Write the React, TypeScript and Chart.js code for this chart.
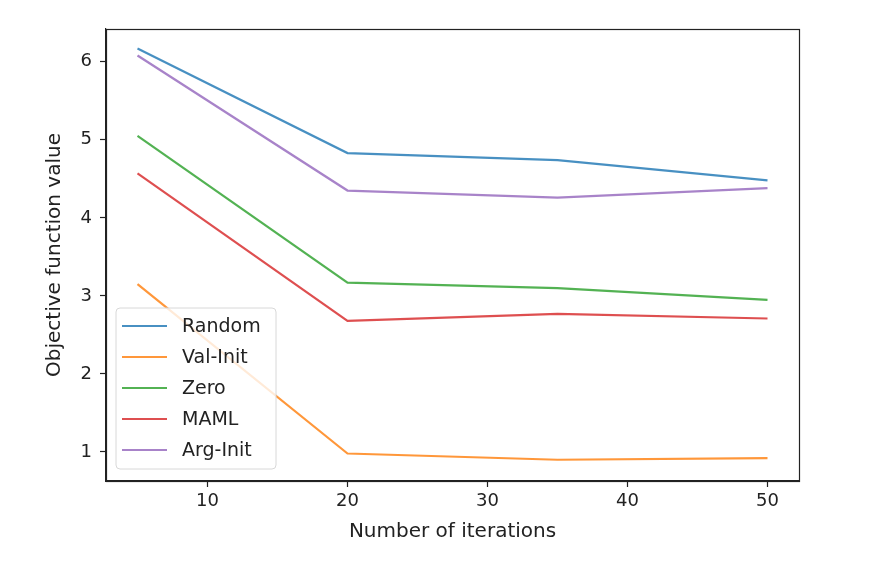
import React, { useEffect, useRef } from "react";
import { Chart, registerables } from "chart.js";

Chart.register(...registerables);

const iterations = [5, 20, 35, 50];
const seriesNames = ["Random", "Val-Init", "Zero", "MAML", "Arg-Init"];
const randomValues = [6.17, 4.83, 4.74, 4.48];
const valInitValues = [3.15, 0.98, 0.9, 0.92];
const zeroValues = [5.05, 3.17, 3.1, 2.95];
const mamlValues = [4.57, 2.68, 2.77, 2.71];
const argInitValues = [6.08, 4.35, 4.26, 4.38];
const xTicks = [10, 20, 30, 40, 50];
const yTicks = [1, 2, 3, 4, 5, 6];
const seriesColors = ["#1f77b4", "#ff7f0e", "#2ca02c", "#d62728", "#9467bd"];

const W = 886;
const H = 570;
const AREA = { left: 106, right: 799, top: 29, bottom: 481 };
const FONT = "'DejaVu Sans', sans-serif";

const framePlugin = {
  id: "frame",
  afterDatasetsDraw(chart: any) {
    const { ctx, chartArea } = chart;
    ctx.save();
    ctx.strokeStyle = "#222";
    ctx.lineWidth = 1.2;
    ctx.strokeRect(
      Math.round(chartArea.left) + 0.5,
      Math.round(chartArea.top) + 0.5,
      Math.round(chartArea.right - chartArea.left),
      Math.round(chartArea.bottom - chartArea.top)
    );
    ctx.restore();
  },
};

const legendPlugin = {
  id: "mplLegend",
  afterDraw(chart: any) {
    const { ctx, chartArea } = chart;
    const x0 = chartArea.left + 10;
    const y1 = chartArea.bottom - 12;
    const rowH = 31;
    const n = chart.data.datasets.length;
    const boxW = 160;
    const boxH = rowH * n + 6;
    const y0 = y1 - boxH;
    ctx.save();
    ctx.fillStyle = "rgba(255,255,255,0.8)";
    ctx.strokeStyle = "#d8d8d8";
    ctx.lineWidth = 1;
    ctx.beginPath();
    const r = 4;
    ctx.moveTo(x0 + r, y0);
    ctx.lineTo(x0 + boxW - r, y0);
    ctx.quadraticCurveTo(x0 + boxW, y0, x0 + boxW, y0 + r);
    ctx.lineTo(x0 + boxW, y1 - r);
    ctx.quadraticCurveTo(x0 + boxW, y1, x0 + boxW - r, y1);
    ctx.lineTo(x0 + r, y1);
    ctx.quadraticCurveTo(x0, y1, x0, y1 - r);
    ctx.lineTo(x0, y0 + r);
    ctx.quadraticCurveTo(x0, y0, x0 + r, y0);
    ctx.closePath();
    ctx.fill();
    ctx.stroke();
    ctx.font = `19px ${FONT}`;
    ctx.textBaseline = "middle";
    ctx.textAlign = "left";
    chart.data.datasets.forEach((ds: any, i: number) => {
      const yy = y0 + 18 + i * rowH;
      ctx.strokeStyle = ds.borderColor;
      ctx.lineWidth = 2.2;
      ctx.beginPath();
      ctx.moveTo(x0 + 6, yy);
      ctx.lineTo(x0 + 51, yy);
      ctx.stroke();
      ctx.fillStyle = "#222";
      ctx.fillText(ds.label, x0 + 66, yy + 1);
    });
    ctx.restore();
  },
};

export default function App() {
  const ref = useRef<HTMLCanvasElement>(null);
  useEffect(() => {
    document.body.style.margin = "0";
    const valueSets = [randomValues, valInitValues, zeroValues, mamlValues, argInitValues];
    const chart = new Chart(ref.current as HTMLCanvasElement, {
      type: "line",
      data: {
        labels: iterations,
        datasets: seriesNames.map((name, i) => ({
          label: name,
          data: iterations.map((x, j) => ({ x, y: valueSets[i][j] })),
          borderColor: seriesColors[i] + "d0",
          backgroundColor: seriesColors[i],
          borderWidth: 2.2,
          pointRadius: 0,
          tension: 0,
          fill: false,
        })),
      },
      options: {
        animation: false,
        responsive: false,
        layout: { padding: { left: 0, top: AREA.top, right: W - AREA.right, bottom: 0 } },
        plugins: { legend: { display: false }, tooltip: { enabled: false } },
        scales: {
          x: {
            type: "linear",
            min: 2.75,
            max: 52.25,
            afterBuildTicks: (s: any) => {
              s.ticks = xTicks.map((v) => ({ value: v }));
            },
            afterFit: (s: any) => {
              s.height = H - AREA.bottom;
            },
            grid: { display: true, drawOnChartArea: false, drawTicks: true, tickLength: 6, color: "#222", tickWidth: 1.2 },
            border: { display: true, color: "#222", width: 1.2 },
            ticks: { color: "#222", font: { family: FONT, size: 18 }, padding: 4, maxRotation: 0 },
            title: {
              display: true,
              text: "Number of iterations",
              color: "#222",
              font: { family: FONT, size: 20 },
              padding: { top: 0, bottom: 26 },
            },
          },
          y: {
            type: "linear",
            min: 0.628,
            max: 6.42,
            afterBuildTicks: (s: any) => {
              s.ticks = yTicks.map((v) => ({ value: v }));
            },
            afterFit: (s: any) => {
              s.width = AREA.left;
            },
            grid: { display: true, drawOnChartArea: false, drawTicks: true, tickLength: 6, color: "#222", tickWidth: 1.2 },
            border: { display: true, color: "#222", width: 1.2 },
            ticks: { color: "#222", font: { family: FONT, size: 18 }, padding: 8 },
            title: {
              display: true,
              text: "Objective function value",
              color: "#222",
              font: { family: FONT, size: 20 },
              padding: { top: 43, bottom: 0 },
            },
          },
        },
      },
      plugins: [framePlugin, legendPlugin],
    });
    return () => chart.destroy();
  }, []);
  return (
    <div style={{ width: W, height: H, background: "#fff" }}>
      <canvas ref={ref} width={W} height={H} />
    </div>
  );
}
